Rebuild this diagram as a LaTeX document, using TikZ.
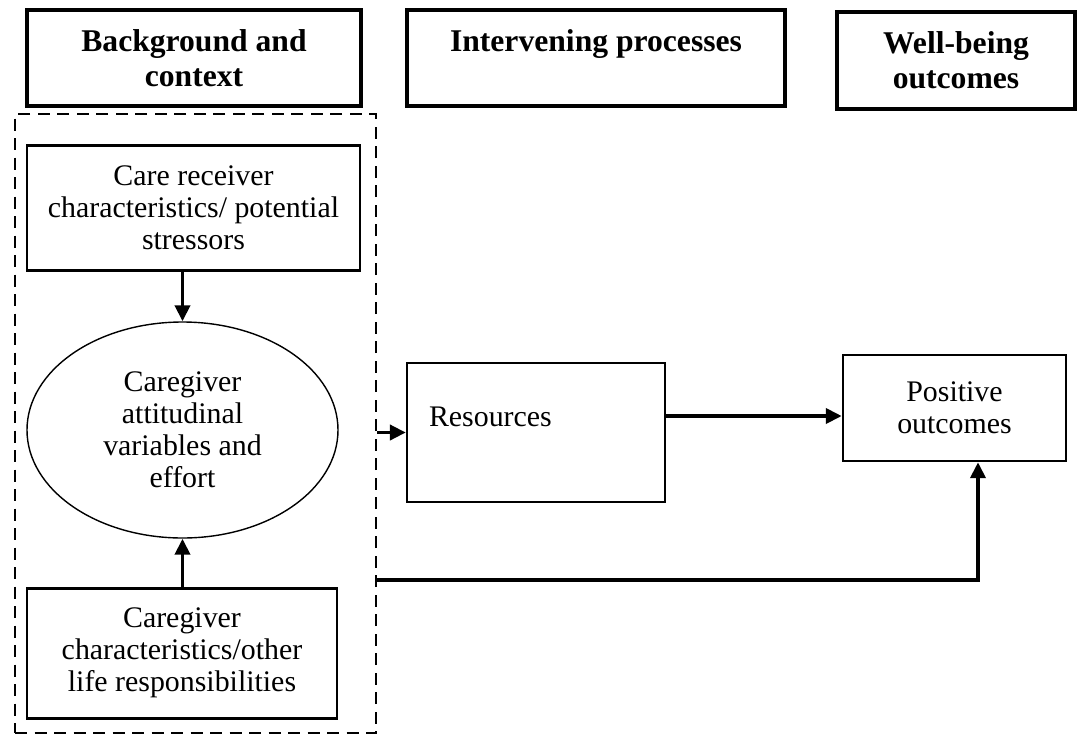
\documentclass[tikz,border=0pt]{standalone}
\usepackage{fontspec}
\setmainfont{Liberation Serif}
\usetikzlibrary{arrows.meta,shapes.geometric}

\begin{document}
\begin{tikzpicture}[>={Triangle[length=0.32cm,width=0.3cm]},line join=miter,font=\fontsize{17}{18.2}\selectfont]
	\tikzset{
		headbox/.style={draw,line width=2.2pt,align=center,inner sep=0pt,font=\fontsize{18}{20}\selectfont\bfseries},
		itembox/.style={draw,line width=1.5pt,align=center,inner sep=0pt},
		flow/.style={->,line width=2.2pt},
	}
	\useasboundingbox (0,0) rectangle (21.58,-14.68);
	% column heads
	\node[headbox,minimum width=6.68cm,minimum height=1.92cm] (bg) at (3.88,-1.16) {Background and\\context};
	\node[headbox,minimum width=7.56cm,minimum height=1.92cm] (iv) at (11.92,-1.16) {Intervening processes\\~};
	\node[headbox,minimum width=4.76cm,minimum height=1.94cm] (wb) at (19.12,-1.21) {Well-being\\outcomes};
	% background and context
	\node[draw,dash pattern=on 0.24cm off 0.15cm,line width=1.4pt,minimum width=7.22cm,minimum height=12.38cm,inner sep=0pt] (frame) at (3.91,-8.47) {};
	\node[itembox,line width=1.7pt,minimum width=6.66cm,minimum height=2.5cm] (recv) at (3.87,-4.15) {Care receiver\\characteristics/ potential\\stressors};
	\node[ellipse,draw,line width=0.8pt,inner sep=0pt,align=center,minimum width=6.22cm,minimum height=4.32cm] (att) at (3.65,-8.6) {Caregiver\\attitudinal\\variables and\\effort};
	\node[itembox,line width=1.7pt,minimum width=6.2cm,minimum height=2.6cm] (giver) at (3.64,-13.06) {Caregiver\\characteristics/other\\life responsibilities};
	% processes and outcomes
	\node[itembox,align=left,inner xsep=0.44cm,text width=4.28cm,minimum height=2.78cm,line width=1.3pt] (res) at (10.72,-8.65) {Resources\\~};
	\node[itembox,line width=1.4pt,minimum width=4.46cm,minimum height=2.12cm] (pos) at (19.09,-8.16) {Positive\\outcomes};
	\coordinate (split) at (7.52,-11.6);
	\draw[flow] (att.north |- recv.south) -- (att.north);
	\draw[flow] (att.south |- giver.north) -- (att.south);
	\draw[flow] (frame.east |- res.west) -- (res.west);
	\draw[flow] ([yshift=-0.16cm]pos.west -| res.east) -- ([yshift=-0.16cm]pos.west);
	\draw[flow] (split) -| ([xshift=0.47cm]pos.south);
\end{tikzpicture}
\end{document}
